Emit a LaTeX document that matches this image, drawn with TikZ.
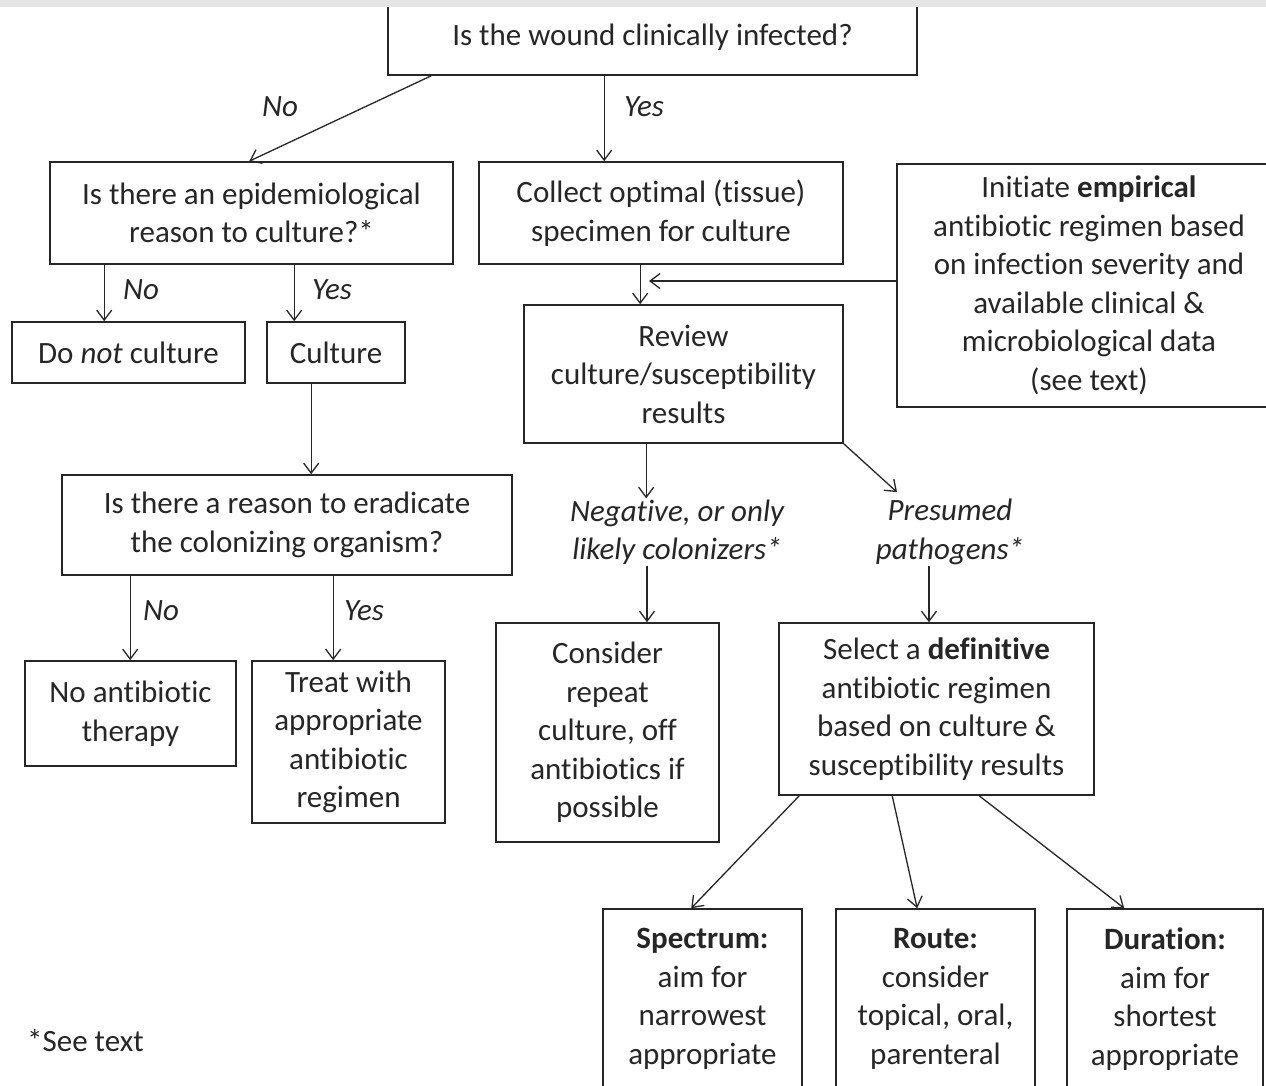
\documentclass[tikz,border=0pt]{standalone}
\usepackage{fontspec}
\setmainfont{Carlito}[Ligatures=NoCommon]
\usetikzlibrary{arrows.meta}
\definecolor{ink}{HTML}{262626}
\definecolor{band}{HTML}{E4E4E4}
\begin{document}
\begin{tikzpicture}[x=1pt,y=-1pt,
  txt/.style={font=\fontsize{31}{38.5}\selectfont, text=ink, align=center, inner sep=1pt},
  box/.style={txt, draw=ink, line width=1.6pt, inner sep=0pt},
  lab/.style={txt, font=\fontsize{31}{38.5}\selectfont\itshape},
  arr/.style={draw=ink, line width=1.3pt, -{Straight Barb[length=10pt,width=15pt,line width=1.3pt]}}]
\useasboundingbox (0,0) rectangle (1266,1085);
\clip (0,0) rectangle (1266,1085);
\fill[white] (0,0) rectangle (1266,1085);
% boxes
\node[box, minimum width=529, minimum height=75] (q1) at (652.5,37.5) {Is the wound clinically infected?};
\node[box, minimum width=403, minimum height=102] (q2) at (251.5,213) {Is there an epidemiological\\reason to culture?*};
\node[box, minimum width=364, minimum height=102] (c1) at (661,213) {Collect optimal (tissue)\\specimen for culture};
\node[box, minimum width=384, minimum height=243] (emp) at (1089,285.5) {Initiate \textbf{empirical}\\antibiotic regimen based\\on infection severity and\\available clinical \&\\microbiological data\\(see text)};
\node[box, minimum width=233, minimum height=61] (dnc) at (128.5,352.5) {Do \textit{not} culture};
\node[box, minimum width=138, minimum height=61] (cul) at (336,352.5) {Culture};
\node[box, minimum width=319, minimum height=138] (rev) at (683.5,374) {Review\\culture/susceptibility\\results};
\node[box, minimum width=450, minimum height=100] (q3) at (287,525) {Is there a reason to eradicate\\the colonizing organism?};
\node[box, minimum width=211, minimum height=105] (noab) at (130.5,713.5) {No antibiotic\\therapy};
\node[box, minimum width=193, minimum height=162] (treat) at (348.5,742) {Treat with\\appropriate\\antibiotic\\regimen};
\node[box, minimum width=223, minimum height=219] (cons) at (607.5,732.5) {Consider\\repeat\\culture, off\\antibiotics if\\possible};
\node[box, minimum width=315, minimum height=172] (sel) at (936.5,709) {Select a \textbf{definitive}\\antibiotic regimen\\based on culture \&\\susceptibility results};
\node[box, minimum width=199, minimum height=180] (spec) at (702.5,999) {\textbf{Spectrum:}\\aim for\\narrowest\\appropriate};
\node[box, minimum width=199, minimum height=180] (route) at (935.5,999) {\textbf{Route:}\\consider\\topical, oral,\\parenteral};
\node[box, minimum width=196, minimum height=180] (dur) at (1165,999) {\textbf{Duration:}\\aim for\\shortest\\appropriate};
% labels
\node[lab] (no1) at (280,107) {No};
\node[lab] (yes1) at (644,107) {Yes};
\node[lab] (no2) at (141,290) {No};
\node[lab] (yes2) at (332,290) {Yes};
\node[lab] (neg) at (677,532) {Negative, or only\\likely colonizers*};
\node[lab] (pres) at (950,532) {Presumed\\pathogens*};
\node[lab] (no3) at (161,611) {No};
\node[lab] (yes3) at (364,611) {Yes};
\node[txt, anchor=west] (note) at (26,1041) {*See text};
% connectors
\draw[arr] ([xshift=44pt]q1.south west) -- ([xshift=200pt]q2.north west);
\draw[arr] ([xshift=217pt]q1.south west) coordinate (a1) -- (a1 |- c1.north);
\draw[arr] ([xshift=55pt]q2.south west) coordinate (a2) -- (a2 |- dnc.north);
\draw[arr] ([xshift=245pt]q2.south west) coordinate (a3) -- (a3 |- cul.north);
\draw[arr] ([xshift=45pt]cul.south west) coordinate (a4) -- (a4 |- q3.north);
\draw[arr] ([xshift=162pt]c1.south west) coordinate (a5) -- (a5 |- rev.north);
\coordinate (m) at (649,281);
\draw[arr] ([yshift=4.5pt]emp.west) -- (m);
\draw[arr] ([xshift=123pt]rev.south west) coordinate (a6) -- (a6 |- neg.north);
\draw[arr] ([xshift=-30pt]neg.south) coordinate (a7) -- (a7 |- cons.north);
\draw[arr] (rev.south east) -- ([xshift=-53pt,yshift=6pt]pres.north);
\draw[arr] ([xshift=-21pt]pres.south) coordinate (a8) -- (a8 |- sel.north);
\draw[arr] ([xshift=69pt]q3.south west) coordinate (a9) -- (a9 |- noab.north);
\draw[arr] ([xshift=272pt]q3.south west) coordinate (a10) -- (a10 |- treat.north);
\draw[arr] ([xshift=21pt]sel.south west) -- ([xshift=89pt]spec.north west);
\draw[arr] ([xshift=114pt]sel.south west) -- ([xshift=82pt]route.north west);
\draw[arr] ([xshift=201pt]sel.south west) -- ([xshift=58pt]dur.north west);
% top band
\fill[band] (0,0) rectangle (1266,7);
\end{tikzpicture}
\end{document}
